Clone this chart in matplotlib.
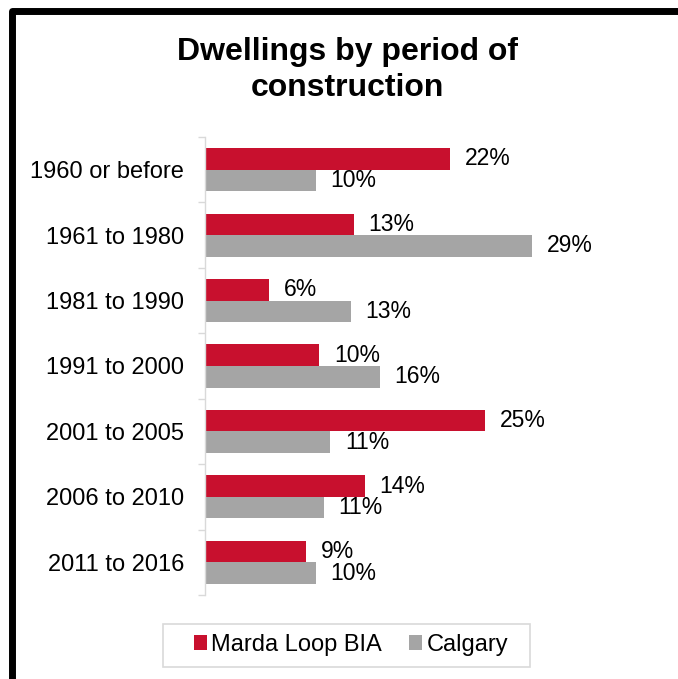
import matplotlib as mpl
import matplotlib.pyplot as plt
from matplotlib.lines import Line2D
from matplotlib.patches import Rectangle
import numpy as np

mpl.rcParams.update({
    'font.family': ['Liberation Sans', 'DejaVu Sans'],
    'font.size': 17,
})

periods = ["1960 or before", "1961 to 1980", "1981 to 1990", "1991 to 2000",
           "2001 to 2005", "2006 to 2010", "2011 to 2016"]
marda_loop = [21.9, 13.3, 5.7, 10.2, 25.0, 14.3, 9.0]
calgary = [9.9, 29.2, 13.0, 15.6, 11.2, 10.6, 9.9]

RED = '#C8102E'
GREY = '#A5A5A5'

fig = plt.figure(figsize=(6.78, 6.79), dpi=100, facecolor='white')
ax = fig.add_axes([205 / 678, 84 / 679, 400 / 678, 458 / 679])

y = np.arange(len(periods))
h = 0.33
off = 0.165
red_bars = ax.barh(y - off, marda_loop, height=h, color=RED, label='Marda Loop BIA')
grey_bars = ax.barh(y + off, calgary, height=h, color=GREY, label='Calgary')

for bars, vals in ((red_bars, marda_loop), (grey_bars, calgary)):
    ax.bar_label(bars, labels=[f"{v:.0f}%" for v in vals], padding=10.5, fontsize=16.5)

ax.set_ylim(len(periods) - 0.5, -0.5)
ax.set_xlim(0, 400 / 11.2)

ax.set_yticks(y)
ax.set_yticklabels(periods)
ax.tick_params(axis='y', length=0, pad=15, labelsize=17)
ax.set_yticks(np.arange(len(periods) + 1) - 0.5, minor=True)
ax.tick_params(axis='y', which='minor', length=5, width=1, color='#d9d9d9', direction='out')
ax.set_xticks([])

for side in ('top', 'right', 'bottom'):
    ax.spines[side].set_visible(False)
ax.spines['left'].set_color('#d9d9d9')
ax.spines['left'].set_linewidth(1)

fig.text(347 / 678, 1 - 70 / 679, "Dwellings by period of\nconstruction",
         ha='center', va='center', fontsize=23, fontweight='bold', linespacing=1.25)

leg = fig.legend(handles=[red_bars, grey_bars], loc='center',
                 bbox_to_anchor=(351 / 678, 1 - 645 / 679), ncol=2,
                 frameon=False, handlelength=0.55, handleheight=0.6,
                 handletextpad=0.2, columnspacing=1.15, borderpad=0.3,
                 borderaxespad=0, fontsize=17)

# legend box drawn separately (wider on the left than matplotlib pads it)
fig.add_artist(Rectangle((163 / 678, 1 - 667 / 679), 367 / 678, 43 / 679,
                         transform=fig.transFigure, facecolor='none',
                         edgecolor='#d9d9d9', linewidth=1.2))

# black frame on the left and top
frame = Line2D([11.5 / 678, 11.5 / 678, 1.0], [0.0, 1 - 10.5 / 679, 1 - 10.5 / 679],
               transform=fig.transFigure, color='black', linewidth=5,
               solid_joinstyle='round', solid_capstyle='butt')
fig.add_artist(frame)

fig.savefig('out.png', dpi=100, facecolor='white')
